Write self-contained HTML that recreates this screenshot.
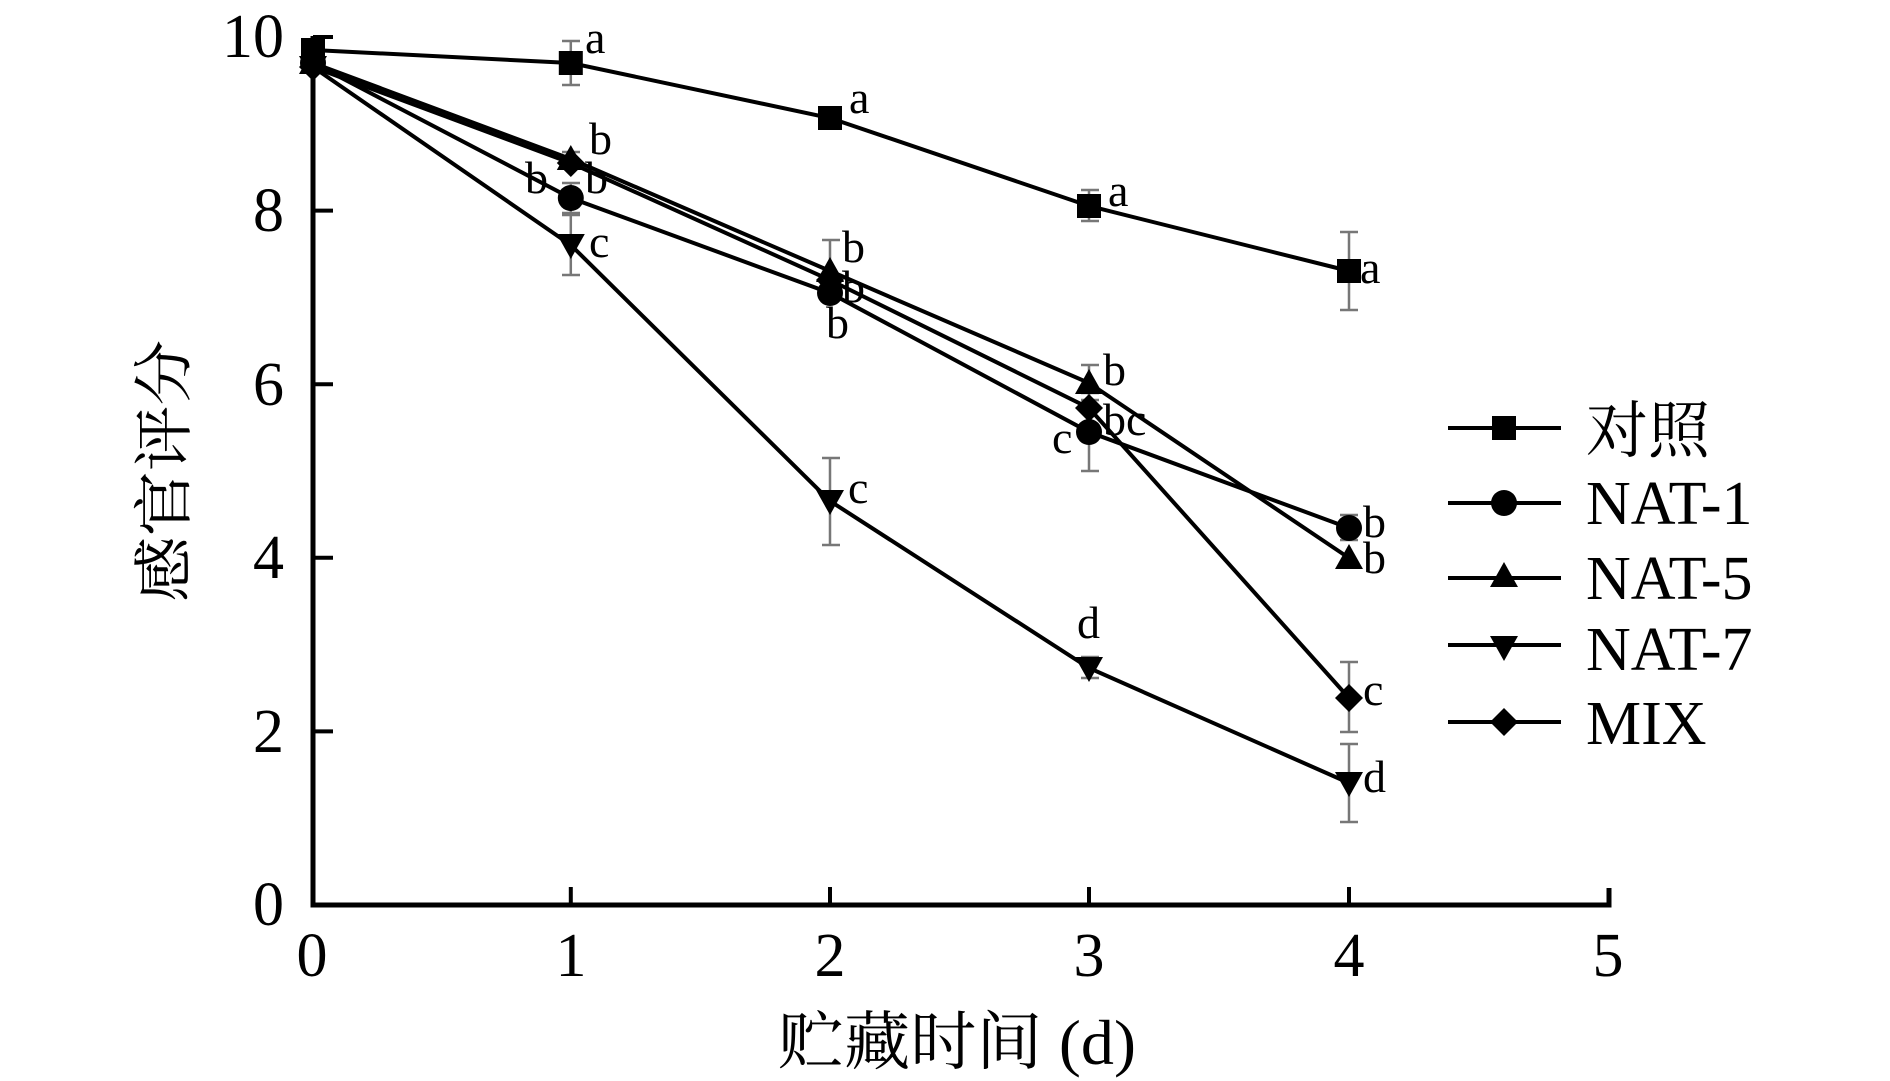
<!DOCTYPE html>
<html><head><meta charset="utf-8"><style>
html,body{margin:0;padding:0;background:#fff;}
svg{display:block;}
text{font-family:"Liberation Serif","Noto Serif CJK SC",serif;fill:#000;}
</style></head><body>
<svg width="1890" height="1081" viewBox="0 0 1890 1081" xmlns="http://www.w3.org/2000/svg">
<defs>
<g id="sq"><rect x="-12" y="-12" width="24" height="24"/></g>
<g id="ci"><circle r="13"/></g>
<g id="tu"><polygon points="0,-14 14,11 -14,11"/></g>
<g id="td"><polygon points="0,14 14,-11 -14,-11"/></g>
<g id="di"><polygon points="0,-14 14,0 0,14 -14,0"/></g>
</defs>
<!-- error bars -->
<g stroke="#777" stroke-width="2.5" fill="none">
<path d="M570.8,41v44M562,41h18M562,85h18"/>
<path d="M830,111v14M822,111h18M822,125h18"/>
<path d="M1089,190v31M1081,190h18M1081,221h18"/>
<path d="M1349,232v78M1340,232h18M1340,310h18"/>
<path d="M570.8,183v30M562,183h18M562,213h18"/>
<path d="M1089,393v78M1081,393h18M1081,471h18"/>
<path d="M1349,515v25M1340,515h18M1340,540h18"/>
<path d="M830,240v60M822,240h18M822,300h18"/>
<path d="M1089,365v35M1081,365h18M1081,400h18"/>
<path d="M570.8,215v60M562,215h18M562,275h18"/>
<path d="M830,458v87M822,458h18M822,545h18"/>
<path d="M1089,657v21M1081,657h18M1081,678h18"/>
<path d="M1349,744v78M1340,744h18M1340,822h18"/>
<path d="M1349,662v70M1340,662h18M1340,732h18"/>
<path d="M570.8,152v14M562,152h18M562,166h18"/>
</g>
<!-- axes -->
<g stroke="#000" stroke-width="5" fill="none">
<path d="M313,36V905H1609V888"/>
</g>
<g stroke="#000" stroke-width="4">
<path d="M313,37h20M313,210.6h20M313,384.2h20M313,557.8h20M313,731.4h20"/>
<path d="M570.8,905v-18M830,905v-18M1089,905v-18M1349,905v-18"/>
</g>
<!-- series -->
<g stroke="#000" stroke-width="4" fill="none">
<polyline points="313,50 570.8,63 830,118 1089,206 1349,271"/>
<polyline points="313,63 570.8,198 830,293 1089,432 1349,528"/>
<polyline points="313,63 570.8,159 830,271 1089,383 1349,558"/>
<polyline points="313,67 570.8,245 830,501 1089,668 1349,783"/>
<polyline points="313,67 570.8,163 830,280 1089,408 1349,698"/>
</g>
<g fill="#000">
<use href="#sq" x="313" y="50"/><use href="#sq" x="570.8" y="63"/><use href="#sq" x="830" y="118"/><use href="#sq" x="1089" y="206"/><use href="#sq" x="1349" y="271"/>
<use href="#ci" x="313" y="63"/><use href="#ci" x="570.8" y="198"/><use href="#ci" x="830" y="293"/><use href="#ci" x="1089" y="432"/><use href="#ci" x="1349" y="528"/>
<use href="#tu" x="313" y="63"/><use href="#tu" x="570.8" y="159"/><use href="#tu" x="830" y="271"/><use href="#tu" x="1089" y="383"/><use href="#tu" x="1349" y="558"/>
<use href="#td" x="313" y="67"/><use href="#td" x="570.8" y="245"/><use href="#td" x="830" y="501"/><use href="#td" x="1089" y="668"/><use href="#td" x="1349" y="783"/>
<use href="#di" x="313" y="67"/><use href="#di" x="570.8" y="163"/><use href="#di" x="830" y="280"/><use href="#di" x="1089" y="408"/><use href="#di" x="1349" y="698"/>
</g>
<!-- letter labels -->
<g font-size="46">
<text x="585" y="53">a</text><text x="849" y="113">a</text><text x="1108" y="206">a</text><text x="1360" y="283">a</text>
<text x="589" y="154">b</text><text x="525" y="193">b</text><text x="585" y="193">b</text><text x="589" y="257">c</text>
<text x="842" y="262">b</text><text x="842" y="302">b</text><text x="826" y="338">b</text><text x="848" y="503">c</text>
<text x="1103" y="385">b</text><text x="1103" y="435">bc</text><text x="1052" y="453">c</text><text x="1077" y="638">d</text>
<text x="1363" y="537">b</text><text x="1363" y="573">b</text><text x="1363" y="705">c</text><text x="1363" y="792">d</text>
</g>
<!-- tick labels -->
<g font-size="62" text-anchor="end">
<text x="284" y="57">10</text><text x="284" y="231">8</text><text x="284" y="405">6</text><text x="284" y="578">4</text><text x="284" y="752">2</text><text x="284" y="925">0</text>
</g>
<g font-size="62" text-anchor="middle">
<text x="312" y="976">0</text><text x="571" y="976">1</text><text x="830" y="976">2</text><text x="1089" y="976">3</text><text x="1349" y="976">4</text><text x="1608" y="976">5</text>
</g>
<!-- axis titles -->
<text x="957" y="1064" font-size="64" text-anchor="middle" textLength="358" lengthAdjust="spacingAndGlyphs">贮藏时间 (d)</text>
<text transform="translate(185,471) rotate(-90)" font-size="60" text-anchor="middle" textLength="262" lengthAdjust="spacingAndGlyphs">感官评分</text>
<!-- legend -->
<g stroke="#000" stroke-width="4">
<path d="M1448,428h113M1448,503h113M1448,578h113M1448,645h113M1448,722h113"/>
</g>
<g fill="#000">
<use href="#sq" x="1504" y="428"/><use href="#ci" x="1504" y="503"/><use href="#tu" x="1504" y="576"/><use href="#td" x="1504" y="647"/><use href="#di" x="1504" y="722"/>
</g>
<g font-size="62">
<text x="1586" y="452">对照</text><text x="1586" y="524">NAT-1</text><text x="1586" y="599">NAT-5</text><text x="1586" y="670">NAT-7</text><text x="1586" y="744">MIX</text>
</g>
</svg>
</body></html>
